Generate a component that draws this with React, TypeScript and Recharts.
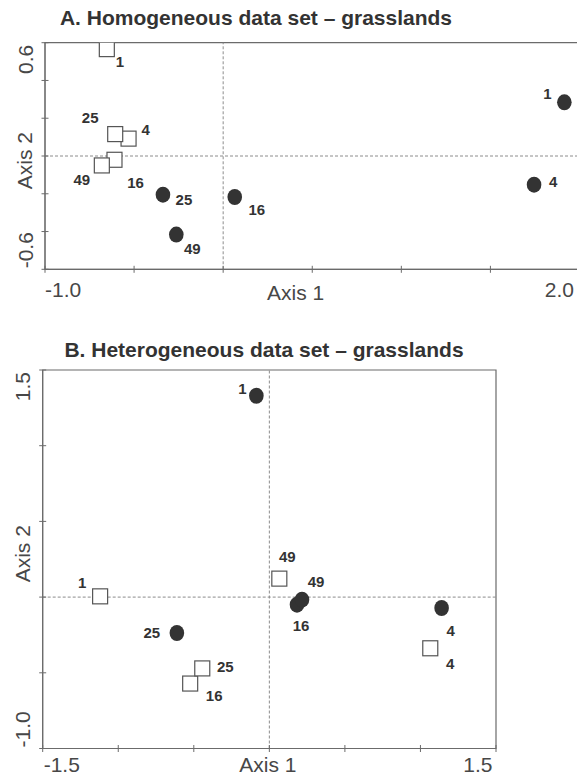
import { ScatterChart, Scatter, XAxis, YAxis, ReferenceLine, ReferenceArea, Label } from 'recharts'

// sample sizes shown next to each marker
const sampleSizes = [1, 4, 16, 25, 49]

// A. homogeneous data set
const homogSquareX = [-0.653, -0.531, -0.61, -0.606, -0.681]
const homogSquareY = [0.566, 0.092, -0.02, 0.116, -0.05]
const homogCircleX = [1.915, 1.745, 0.065, -0.338, -0.263]
const homogCircleY = [0.284, -0.152, -0.217, -0.205, -0.416]

// B. heterogeneous data set
const heterSquareX = [-1.12, 1.065, -0.524, -0.444, 0.066]
const heterSquareY = [0.005, -0.338, -0.571, -0.471, 0.122]
const heterCircleX = [-0.086, 1.14, 0.183, -0.612, 0.216]
const heterCircleY = [1.33, -0.072, -0.05, -0.237, -0.017]

const ticksAX = [-1, -0.5, 0, 0.5, 1, 1.5, 2]
const ticksAY = [-0.6, -0.4, -0.2, 0, 0.2, 0.4, 0.6]
const ticksBX = [-1.5, -1, -0.5, 0, 0.5, 1, 1.5]
const ticksBY = [-1, -0.5, 0, 0.5, 1, 1.5]

// where each number sits relative to its marker (px)
const offsetsA = {
  square: { 1: [13, 12], 4: [17, -9], 16: [21, 23], 25: [-25, -17], 49: [-20, 14] },
  circle: { 1: [-17, -9], 4: [19, -3], 16: [22, 13], 25: [21, 5], 49: [16, 14] }
}
const offsetsB = {
  square: { 1: [-18, -14], 4: [20, 15], 16: [24, 12], 25: [23, -2], 49: [8, -22] },
  circle: { 1: [-14, -7], 4: [9, 22], 16: [4, 21], 25: [-25, 0], 49: [14, -18] }
}

const AXIS = '#6b6b6b'
const DASH = '#8c8c8c'
const INK = '#333'
const TXT = '#474747'
const FONT = '"Liberation Sans", Arial, sans-serif'

const toPoints = (xs: number[], ys: number[]) =>
  sampleSizes.map((n, i) => ({ n, x: xs[i], y: ys[i] }))

const fmt = (v: number) => v.toFixed(1)

const squareShape = (offs: any) => (props: any) => {
  const { cx, cy, payload } = props
  const off = offs[payload.n]
  return (
    <g>
      <rect x={cx - 7.5} y={cy - 7.5} width={15} height={15} fill="#fff" stroke="#555" strokeWidth={1.2} />
      <text x={cx + off[0]} y={cy + off[1]} textAnchor="middle" dominantBaseline="central"
        fontSize={15} fontWeight="bold" fontFamily={FONT} fill={INK}>{payload.n}</text>
    </g>
  )
}

const circleShape = (offs: any) => (props: any) => {
  const { cx, cy, payload } = props
  const off = offs[payload.n]
  return (
    <g>
      <ellipse cx={cx} cy={cy} rx={7.3} ry={8} fill={INK} />
      <text x={cx + off[0]} y={cy + off[1]} textAnchor="middle" dominantBaseline="central"
        fontSize={15} fontWeight="bold" fontFamily={FONT} fill={INK}>{payload.n}</text>
    </g>
  )
}

const xTick = (lo: number, hi: number, dy: number, startDx: number, endDx: number) => (props: any) => {
  const { x, y, payload } = props
  const v = payload.value
  return (
    <g>
      <line x1={x} x2={x} y1={y - 3.5} y2={y + 3.5} stroke={AXIS} />
      {v === lo && (
        <text x={x + startDx} y={y + dy} textAnchor="start" fontSize={21} fontFamily={FONT} fill={TXT}>{fmt(v)}</text>
      )}
      {v === hi && (
        <text x={x + endDx} y={y + dy} textAnchor="end" fontSize={21} fontFamily={FONT} fill={TXT}>{fmt(v)}</text>
      )}
    </g>
  )
}

const yTick = (lo: number, hi: number, dx: number) => (props: any) => {
  const { x, y, payload } = props
  const v = payload.value
  const bx = x + dx
  return (
    <g>
      <line x1={x - 3.5} x2={x + 3.5} y1={y} y2={y} stroke={AXIS} />
      {v === hi && (
        <text x={bx} y={y + 2} transform={`rotate(-90, ${bx}, ${y + 2})`} textAnchor="end"
          fontSize={21} fontFamily={FONT} fill={TXT}>{fmt(v)}</text>
      )}
      {v === lo && (
        <text x={bx} y={y - 1} transform={`rotate(-90, ${bx}, ${y - 1})`} textAnchor="start"
          fontSize={21} fontFamily={FONT} fill={TXT}>{fmt(v)}</text>
      )}
    </g>
  )
}

const xTitle = (text: string, dx: number, dy: number) => (
  <Label
    content={(p: any) => {
      const vb = p.viewBox
      return (
        <text x={vb.x + vb.width / 2 + dx} y={vb.y + dy} textAnchor="middle" fontSize={21} fontFamily={FONT} fill={TXT}>
          {text}
        </text>
      )
    }}
  />
)

const yTitle = (text: string, dx: number, dy: number) => (
  <Label
    content={(p: any) => {
      const vb = p.viewBox
      const bx = vb.x + vb.width + dx
      const by = vb.y + vb.height / 2 + dy
      return (
        <text x={bx} y={by} transform={`rotate(-90, ${bx}, ${by})`} textAnchor="middle" fontSize={21} fontFamily={FONT} fill={TXT}>
          {text}
        </text>
      )
    }}
  />
)

interface PanelProps {
  width: number
  height: number
  margin: { top: number; right: number; bottom: number; left: number }
  yAxisWidth: number
  xAxisHeight: number
  xTicks: number[]
  yTicks: number[]
  squares: { n: number; x: number; y: number }[]
  circles: { n: number; x: number; y: number }[]
  offsets: any
  xLabelDy: number
  xEndDx: number
  xStartDx: number
  yLabelDx: number
  xTitleDx: number
  xTitleDy: number
  yTitleDx: number
  yTitleDy: number
}

function Panel(p: PanelProps) {
  const xLo = p.xTicks[0]
  const xHi = p.xTicks[p.xTicks.length - 1]
  const yLo = p.yTicks[0]
  const yHi = p.yTicks[p.yTicks.length - 1]
  return (
    <ScatterChart width={p.width} height={p.height} margin={p.margin}>
      <ReferenceArea x1={xLo} x2={xHi} y1={yLo} y2={yHi} fill="none" stroke={AXIS} strokeWidth={1.2} />
      <ReferenceLine x={0} stroke={DASH} strokeDasharray="3 2" />
      <ReferenceLine y={0} stroke={DASH} strokeDasharray="3 2" />
      <XAxis
        type="number"
        dataKey="x"
        domain={[xLo, xHi]}
        ticks={p.xTicks}
        allowDataOverflow
        height={p.xAxisHeight}
        stroke={AXIS}
        tickLine={false}
        tickSize={0}
        tickMargin={0}
        tick={xTick(xLo, xHi, p.xLabelDy, p.xStartDx, p.xEndDx)}
        interval={0}
      >
        {xTitle('Axis 1', p.xTitleDx, p.xTitleDy)}
      </XAxis>
      <YAxis
        type="number"
        dataKey="y"
        domain={[yLo, yHi]}
        ticks={p.yTicks}
        allowDataOverflow
        width={p.yAxisWidth}
        stroke={AXIS}
        tickLine={false}
        tickSize={0}
        tickMargin={0}
        tick={yTick(yLo, yHi, p.yLabelDx)}
        interval={0}
      >
        {yTitle('Axis 2', p.yTitleDx, p.yTitleDy)}
      </YAxis>
      <Scatter data={p.squares} shape={squareShape(p.offsets.square)} isAnimationActive={false} />
      <Scatter data={p.circles} shape={circleShape(p.offsets.circle)} isAnimationActive={false} />
    </ScatterChart>
  )
}

const titleStyle = {
  position: 'absolute' as const,
  width: 500,
  textAlign: 'center' as const,
  fontFamily: FONT,
  fontWeight: 'bold' as const,
  fontSize: 21,
  lineHeight: '21px',
  color: INK
}

export default function App() {
  return (
    <div style={{ position: 'absolute', left: 0, top: 0, width: 577, height: 777, overflow: 'hidden', background: '#fff' }}>
      <div style={{ ...titleStyle, left: 6, top: 7 }}>A. Homogeneous data set – grasslands</div>
      <div style={{ position: 'absolute', left: 0, top: 0 }}>
        <Panel
          width={620}
          height={310}
          margin={{ top: 42.7, right: 40.5, bottom: 0, left: 0 }}
          yAxisWidth={45}
          xAxisHeight={40.7}
          xTicks={ticksAX}
          yTicks={ticksAY}
          squares={toPoints(homogSquareX, homogSquareY)}
          circles={toPoints(homogCircleX, homogCircleY)}
          offsets={offsetsA}
          xLabelDy={27.7}
          xStartDx={0}
          xEndDx={-5.5}
          yLabelDx={-11.7}
          xTitleDx={-16.7}
          xTitleDy={30.7}
          yTitleDx={-13.3}
          yTitleDy={4.6}
        />
      </div>
      <div style={{ ...titleStyle, left: 14, top: 339 }}>B. Heterogeneous data set – grasslands</div>
      <div style={{ position: 'absolute', left: 0, top: 300 }}>
        <Panel
          width={577}
          height={477}
          margin={{ top: 70, right: 81, bottom: 0, left: 0 }}
          yAxisWidth={42.7}
          xAxisHeight={28.5}
          xTicks={ticksBX}
          yTicks={ticksBY}
          squares={toPoints(heterSquareX, heterSquareY)}
          circles={toPoints(heterCircleX, heterCircleY)}
          offsets={offsetsB}
          xLabelDy={23}
          xStartDx={1}
          xEndDx={-3.5}
          yLabelDx={-13}
          xTitleDx={-1.4}
          xTitleDy={23}
          yTitleDx={-13}
          yTitleDy={-5.5}
        />
      </div>
    </div>
  )
}
